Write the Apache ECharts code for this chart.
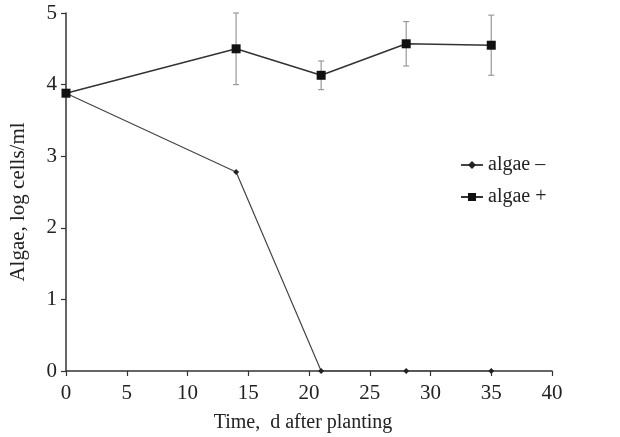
<!DOCTYPE html>
<html><head><meta charset="utf-8">
<script src="https://cdn.jsdelivr.net/npm/echarts@6/dist/echarts.min.js"></script>
<style>html,body{margin:0;padding:0;background:#fff}#c{width:620px;height:437px}</style>
</head><body><div id="c"></div>
<script>
var days = [0, 14, 21, 28, 35];
var algaeMinus = [3.88, 2.78, 0, 0, 0];
var algaePlus = [3.88, 4.5, 4.13, 4.57, 4.55];
var algaePlusErr = [0, 0.5, 0.2, 0.31, 0.42];
var xTicks = [0, 5, 10, 15, 20, 25, 30, 35, 40];
var yTicks = [0, 1, 2, 3, 4, 5];

var font = 'Liberation Serif';
var chart = echarts.init(document.getElementById('c'));
var errData = days.map(function (d, i) { return [d, algaePlus[i] - algaePlusErr[i], algaePlus[i] + algaePlusErr[i]]; })
  .filter(function (e, i) { return algaePlusErr[i] > 0; });
chart.setOption({
  animation: false,
  backgroundColor: '#fff',
  grid: { left: 66, right: 68, top: 13, bottom: 66, outerBoundsMode: 'none', containLabel: false },
  legend: {
    orient: 'vertical', left: 455, top: 150, itemGap: 12, itemWidth: 22, itemHeight: 10,
    textStyle: { fontFamily: font, fontSize: 20, color: '#222' },
    data: ['algae –', 'algae +']
  },
  xAxis: {
    type: 'value', min: 0, max: 40, interval: 5,
    name: 'Time,  d after planting', nameLocation: 'middle', nameGap: 42,
    nameTextStyle: { fontFamily: font, fontSize: 20, color: '#222', padding: [0, 12, 0, 0] },
    axisLine: { lineStyle: { color: '#333', width: 1.5 } },
    axisTick: { show: true, length: 5, lineStyle: { color: '#333', width: 1.2 } },
    axisLabel: { fontFamily: font, fontSize: 21, color: '#222', margin: 12 },
    splitLine: { show: false }
  },
  yAxis: {
    type: 'value', min: 0, max: 5, interval: 1,
    name: 'Algae, log cells/ml', nameLocation: 'middle', nameGap: 37,
    nameTextStyle: { fontFamily: font, fontSize: 21, color: '#222', padding: [0, 20, 0, 0] },
    axisLine: { show: true, lineStyle: { color: '#333', width: 1.5 } },
    axisTick: { show: true, length: 5, lineStyle: { color: '#333', width: 1.2 } },
    axisLabel: { fontFamily: font, fontSize: 21, color: '#222', margin: 9 },
    splitLine: { show: false }
  },
  series: [
    {
      name: 'algae –', type: 'line', data: days.map(function (d, i) { return [d, algaeMinus[i]]; }),
      symbol: 'diamond', symbolSize: 6, color: '#222',
      lineStyle: { color: '#444', width: 1.2 }, itemStyle: { color: '#222' }
    },
    {
      name: 'algae +', type: 'line', data: days.map(function (d, i) { return [d, algaePlus[i]]; }),
      symbol: 'rect', symbolSize: 9, color: '#111', z: 3,
      lineStyle: { color: '#333', width: 1.5 }, itemStyle: { color: '#111' }
    },
    {
      type: 'custom', name: 'err', data: errData, z: 1,
      renderItem: function (params, api) {
        var x = api.value(0);
        var lo = api.coord([x, api.value(1)]);
        var hi = api.coord([x, api.value(2)]);
        var w = 3;
        var st = { stroke: '#999', lineWidth: 1.2 };
        return { type: 'group', children: [
          { type: 'line', shape: { x1: lo[0], y1: lo[1], x2: hi[0], y2: hi[1] }, style: st },
          { type: 'line', shape: { x1: lo[0] - w, y1: lo[1], x2: lo[0] + w, y2: lo[1] }, style: st },
          { type: 'line', shape: { x1: hi[0] - w, y1: hi[1], x2: hi[0] + w, y2: hi[1] }, style: st }
        ]};
      }
    }
  ]
});
</script></body></html>
